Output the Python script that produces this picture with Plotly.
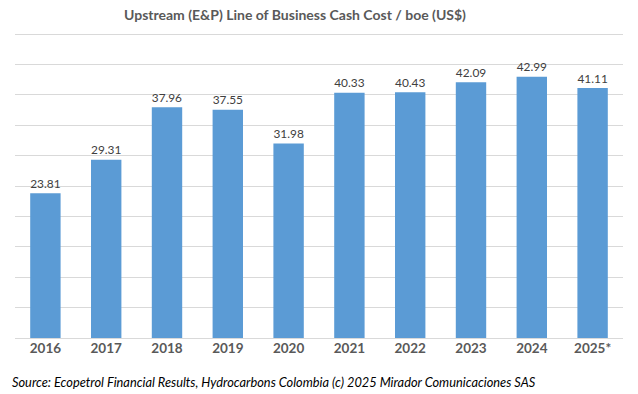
import plotly.graph_objects as go

years = ["2016", "2017", "2018", "2019", "2020", "2021", "2022", "2023", "2024", "2025*"]
cash_cost = [23.81, 29.31, 37.96, 37.55, 31.98, 40.33, 40.43, 42.09, 42.99, 41.11]
labels = [f"{v:.2f}" for v in cash_cost]

FONT = "Lato"
Y_MAX = 51
PX_PER_UNIT = (338 - 34) / 50
PLOT_BOTTOM, PLOT_LEFT, PLOT_RIGHT = 338, 15, 623
PLOT_TOP = round(PLOT_BOTTOM - Y_MAX * PX_PER_UNIT)

fig = go.Figure()
fig.add_trace(go.Bar(
    x=years, y=cash_cost,
    marker=dict(color="#5B9BD5", line=dict(width=0)),
    text=labels, textposition="outside",
    textfont=dict(family=FONT, size=15, color="#404040"),
    cliponaxis=False,
    width=0.5,
    hoverinfo="skip",
))

fig.update_layout(
    width=638, height=394,
    margin=dict(l=PLOT_LEFT, r=638 - PLOT_RIGHT, t=PLOT_TOP, b=394 - PLOT_BOTTOM, autoexpand=False),
    paper_bgcolor="white", plot_bgcolor="white",
    showlegend=False,
    title=dict(
        text="<b>Upstream (E&P) Line of Business Cash Cost / boe (US$)</b>",
        x=295 / 638, xanchor="center", xref="container",
        y=1 - 15 / 394, yanchor="middle", yref="container",
        font=dict(family=FONT, size=14, color="#595959"),
    ),
    xaxis=dict(
        showgrid=False, showline=False, ticks="", automargin=False,
        tickfont=dict(family=FONT, size=13.5, color="#595959"),
        tickprefix="<b>", ticksuffix="</b>",
    ),
    yaxis=dict(
        range=[0, Y_MAX], dtick=5, showticklabels=False, automargin=False,
        showgrid=True, gridcolor="#D9D9D9", gridwidth=1,
        zeroline=True, zerolinecolor="#D9D9D9", zerolinewidth=1,
        showline=False,
    ),
    annotations=[dict(
        text="<i>Source: Ecopetrol Financial Results, Hydrocarbons Colombia (c) 2025 Mirador Comunicaciones SAS</i>",
        x=(10 - PLOT_LEFT) / (PLOT_RIGHT - PLOT_LEFT), xref="paper", xanchor="left",
        y=-(382 - PLOT_BOTTOM) / (PLOT_BOTTOM - PLOT_TOP), yref="paper", yanchor="middle",
        showarrow=False,
        font=dict(family=FONT, size=12.8, color="#000000"),
    )],
)

fig.write_html(
    "out.html",
    config={"displayModeBar": False, "staticPlot": True},
    post_script="document.body.style.margin='0';document.body.style.overflow='hidden';",
)
